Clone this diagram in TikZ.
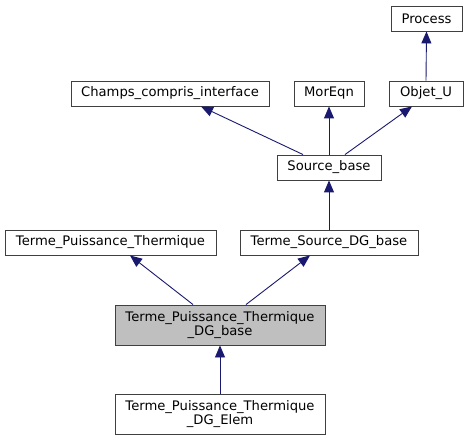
\documentclass[tikz,border=0pt]{standalone}
\usepackage{fontspec}
\setmainfont{DejaVu Sans}
\usetikzlibrary{arrows.meta}
\definecolor{edgeblue}{HTML}{191970}
\definecolor{boxgray}{HTML}{BFBFBF}
\begin{document}
\begin{tikzpicture}[x=1bp,y=-1bp,
  cls/.style={draw=black!75, line width=0.9bp, fill=white, inner sep=0pt, font=\fontsize{13.2}{14}\selectfont, align=center},
  inh/.style={draw=edgeblue, line width=0.9bp, -{Triangle[length=12bp,width=10bp]}},
  ]
\useasboundingbox (0,0) rectangle (469,440);
\node[cls, minimum width=71bp, minimum height=25bp] (process) at (426.5,18.5) {Process};
\node[cls, minimum width=198bp, minimum height=25bp] (champs) at (170,93.5) {Champs\_compris\_interface};
\node[cls, minimum width=70bp, minimum height=25bp] (moreqn) at (329,93.5) {MorEqn};
\node[cls, minimum width=74bp, minimum height=25bp] (objet) at (426,93.5) {Objet\_U};
\node[cls, minimum width=104bp, minimum height=25bp] (source) at (329,167.5) {Source\_base};
\node[cls, minimum width=211bp, minimum height=25bp] (tpt) at (110.5,242.5) {Terme\_Puissance\_Thermique};
\node[cls, minimum width=178bp, minimum height=25bp] (tsdg) at (329,242.5) {Terme\_Source\_DG\_base};
\node[cls, fill=boxgray, minimum width=210bp, minimum height=40bp] (base) at (220,325) {Terme\_Puissance\_Thermique\\\_DG\_base};
\node[cls, minimum width=210bp, minimum height=40bp] (elem) at (220,414) {Terme\_Puissance\_Thermique\\\_DG\_Elem};
\draw[inh] (objet.north) -- (process.south);
\draw[inh] (source.north -| 303,0) -- (champs.south -| 201,0);
\draw[inh] (source.north) -- (moreqn.south);
\draw[inh] (source.north -| 345,0) -- (objet.south -| 412,0);
\draw[inh] (tsdg.north) -- (source.south);
\draw[inh] (base.north -| 193,0) -- (tpt.south -| 130,0);
\draw[inh] (base.north -| 246,0) -- (tsdg.south -| 310,0);
\draw[inh] (elem.north) -- (base.south);
\end{tikzpicture}
\end{document}
